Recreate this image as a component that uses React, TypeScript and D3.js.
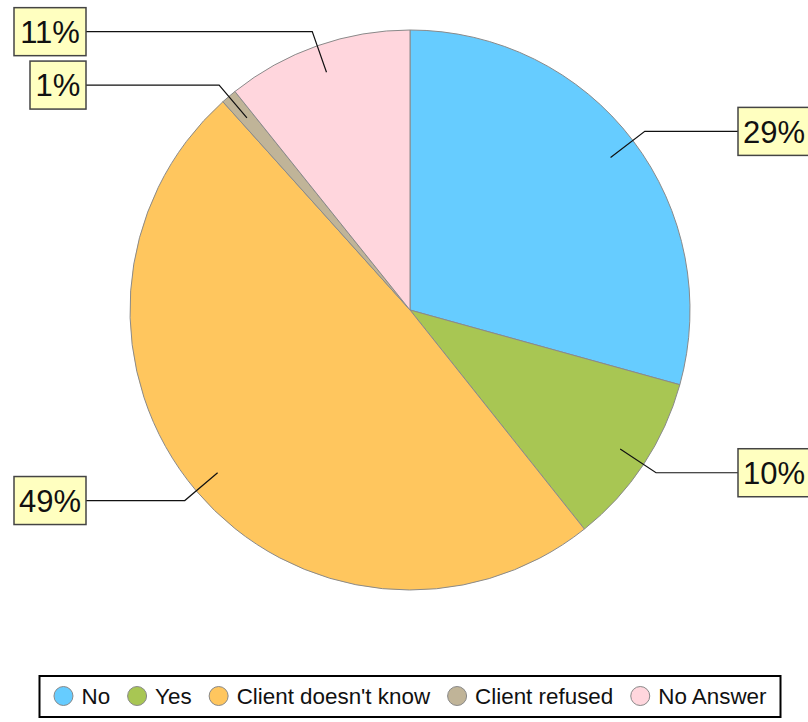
import * as d3 from "d3";
import React from "react";

const categories = ["No", "Yes", "Client doesn't know", "Client refused", "No Answer"];
const values = [29.3, 10.0, 49.05, 0.9, 10.75];
const colors = ["#66ccff", "#a8c653", "#ffc65e", "#c0b498", "#ffd6dd"];
const labels = ["29%", "10%", "49%", "1%", "11%"];

const width = 808;
const height = 722;
const cx = 410;
const cy = 310;
const radius = 280;

type Slice = d3.PieArcDatum<number>;

function Legend() {
  const ref = React.useRef<SVGGElement>(null);

  React.useLayoutEffect(() => {
    const g = d3.select(ref.current);
    g.selectAll("*").remove();
    const items = g.append("g");
    let x = 0;
    categories.forEach((c, i) => {
      const it = items.append("g").attr("transform", `translate(${x},0)`);
      it.append("circle").attr("cx", 10).attr("cy", 0).attr("r", 9.5)
        .attr("fill", colors[i]).attr("stroke", "#888").attr("stroke-width", 1);
      const t = it.append("text").attr("x", 28).attr("y", 0).attr("dy", "0.35em")
        .attr("font-family", "Liberation Sans, Arial, sans-serif")
        .attr("font-size", 22.4).attr("fill", "#111").text(c);
      const w = (t.node() as SVGTextElement).getComputedTextLength();
      x += 28 + w + 17;
    });
    const total = x - 17;
    const boxW = 741;
    const left = cx - boxW / 2;
    items.attr("transform", `translate(${left + (boxW - total) / 2},${696})`);
    g.insert("rect", ":first-child")
      .attr("x", left).attr("y", 676).attr("width", boxW).attr("height", 41)
      .attr("fill", "white").attr("stroke", "#000").attr("stroke-width", 2);
  }, []);

  return <g ref={ref} />;
}

export default function App() {
  const pie = d3.pie<number>().sort(null).startAngle(0).endAngle(2 * Math.PI)(values);
  const arc = d3.arc<Slice>().innerRadius(0).outerRadius(radius);

  const leaders = pie.map((d, i) => {
    const a = (d.startAngle + d.endAngle) / 2;
    const p0 = [Math.sin(a) * radius * 0.9, -Math.cos(a) * radius * 0.9];
    const p1 = [Math.sin(a) * (radius + 15), -Math.cos(a) * (radius + 15)];
    const right = p1[0] > 0;
    const boxX = right ? cx + 328 : cx - 324;
    return { p0, p1, right, boxX, label: labels[i] };
  });

  return (
    <svg width={width} height={height} style={{ position: "absolute", left: 0, top: 0, background: "white" }}>
      <g transform={`translate(${cx},${cy})`}>
        {pie.map((d, i) => (
          <path key={i} d={arc(d) ?? ""} fill={colors[i]} stroke="#8a8a8a" strokeWidth={1} />
        ))}
        {leaders.map((l, i) => (
          <polyline key={i} fill="none" stroke="#111" strokeWidth={1.2}
            points={`${l.p0[0]},${l.p0[1]} ${l.p1[0]},${l.p1[1]} ${l.boxX - cx},${l.p1[1]}`} />
        ))}
      </g>
      {leaders.map((l, i) => {
        const tw = l.label.length === 2 ? 46 : 62;
        const bw = tw + 10;
        const bx = l.right ? l.boxX : l.boxX - bw;
        const by = cy + l.p1[1] - 24;
        return (
          <g key={i}>
            <rect x={bx} y={by} width={bw} height={48} fill="#ffffc0" stroke="#444" strokeWidth={1.5} />
            <text x={bx + bw / 2} y={by + 24} dy="0.36em" textAnchor="middle"
              fontFamily="Liberation Sans, Arial, sans-serif" fontSize={31} fill="#111">{l.label}</text>
          </g>
        );
      })}
      <Legend />
    </svg>
  );
}
